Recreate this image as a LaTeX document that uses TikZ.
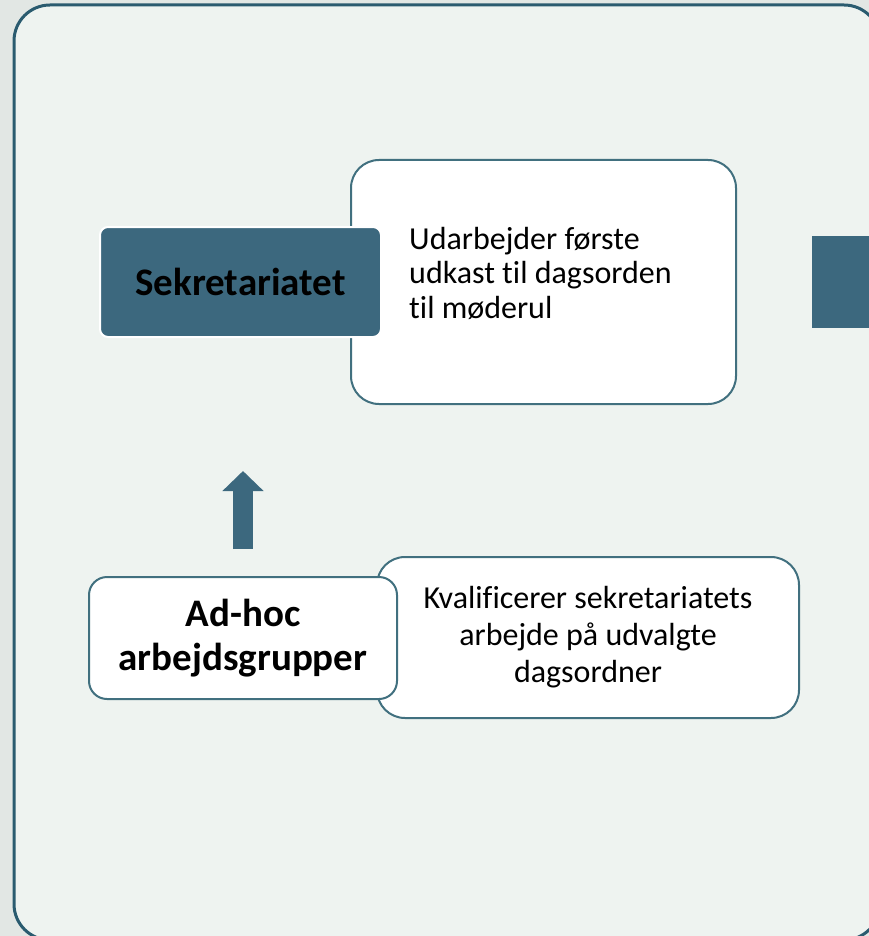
\documentclass[tikz,border=0pt]{standalone}
\usepackage{fontspec}
\setmainfont[Ligatures=NoCommon]{Carlito}
\usepackage{xcolor}
\usetikzlibrary{arrows.meta,positioning}

\definecolor{pagebg}{HTML}{E2E7E4}
\definecolor{framebg}{HTML}{EEF3F0}
\definecolor{framedge}{HTML}{2A5B6F}
\definecolor{unitfill}{HTML}{3C687E}
\definecolor{unitedge}{HTML}{41707F}

\begin{document}
\begin{tikzpicture}[x=1pt, y=-1pt,
  desc/.style={draw=unitedge, line width=2pt, fill=white, rectangle, rounded corners=28pt, inner sep=0pt},
  unit/.style={rectangle, inner sep=0pt, font=\fontsize{39}{44}\selectfont\bfseries, align=center},
  desctext/.style={inner sep=0pt, font=\fontsize{32}{34.5}\selectfont},
  bigarrow/.style={line width=20pt, draw=unitfill, -{Triangle[width=40pt, length=20pt]}}
]
\useasboundingbox (0,0) rectangle (869,936);
\fill[pagebg] (0,0) rectangle (869,936);
% outer frame
\draw[framedge, fill=framebg, line width=3pt, rounded corners=36pt] (14,5) rectangle (880,940);

% top row
\node[desc, minimum width=385pt, minimum height=244pt] (desc1) at (543.5,282) {};
\node[desctext, anchor=north west, align=left] (desc1txt) at (409,227)
  {Udarbejder første\\udkast til dagsorden\\til møderul};
\node[unit, fill=unitfill, draw=white, line width=2pt, rounded corners=8pt,
  minimum width=281pt, minimum height=110pt] (sek) at (240.5,282) {Sekretariatet};
\fill[unitfill] (812,236) rectangle (900,328);

% arrow
\coordinate (arrbot) at (243,549);
\coordinate (arrtop) at (243,471);
\draw[bigarrow] (arrbot) -- (arrtop);

% bottom row
\node[desc, minimum width=422pt, minimum height=161pt, align=center,
  font=\fontsize{32}{37}\selectfont] (desc2) at (588,637.5)
  {Kvalificerer sekretariatets\\arbejde på udvalgte\\dagsordner};
\node[unit, fill=white, draw=unitedge, line width=2pt, rounded corners=18pt,
  minimum width=308pt, minimum height=122pt] (adhoc) at (243,638) {Ad-hoc\\arbejdsgrupper};
\end{tikzpicture}
\end{document}
